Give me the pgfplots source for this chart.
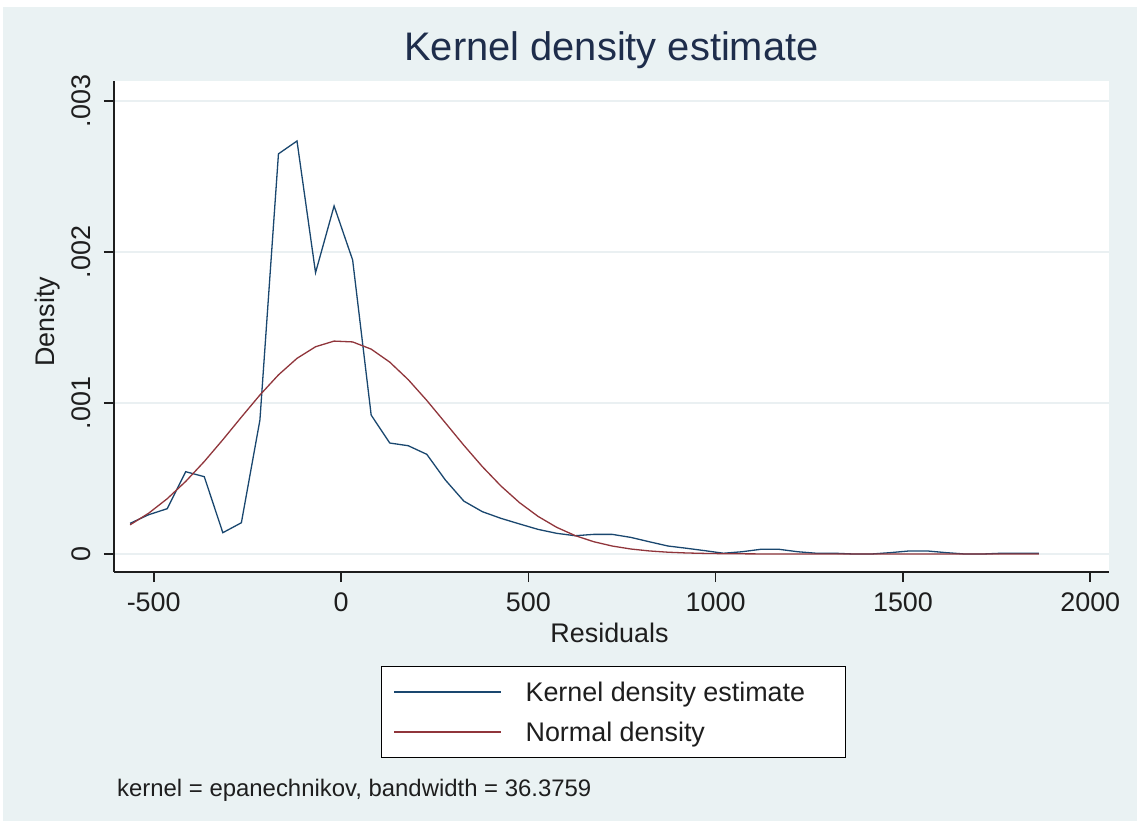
\documentclass[border=0pt]{standalone}
\usepackage{fontspec}
\setmainfont{Liberation Sans}
\usepackage{pgfplots}
\pgfplotsset{compat=1.18}

\definecolor{stbg}{RGB}{234,242,243}
\definecolor{stgrid}{RGB}{234,240,242}
\definecolor{stnavy}{RGB}{26,71,111}
\definecolor{stmaroon}{RGB}{144,53,59}
\definecolor{sttitle}{RGB}{30,45,75}
\definecolor{sttext}{RGB}{30,30,30}

\begin{document}
\begin{tikzpicture}[x=1bp,y=1bp]
% page background (Stata s2color)
\fill[white] (-114,-249) rectangle (1023,572);
\fill[stbg] (-111,-249) rectangle (1023,565);

\begin{axis}[
    at={(0,0)}, anchor=south west,
    scale only axis,
    width=995bp, height=491bp,
    xmin=-606, xmax=2050,
    ymin=-0.0001192, ymax=0.0031325,
    axis lines*=left,
    axis line style={line width=1.6bp, color=sttext, -},
    axis background/.style={fill=white},
    xtick={-500,0,500,1000,1500,2000},
    xticklabels={-500,0,500,1000,1500,2000},
    ytick={0,0.001,0.002,0.003},
    yticklabels={0,.001,.002,.003},
    scaled y ticks=false,
    tick align=outside,
    major tick length=10bp,
    tick style={line width=1.6bp, color=sttext},
    ymajorgrids,
    grid style={line width=1.4bp, color=stgrid},
    tick label style={font=\fontsize{27}{32}\selectfont, text=sttext, inner sep=0pt},
    xticklabel style={anchor=north, yshift=-11bp},
    yticklabel style={rotate=90, anchor=south, yshift=13bp},
    xlabel={Residuals},
    ylabel={Density},
    label style={font=\fontsize{27}{32}\selectfont, text=sttext, inner sep=0pt},
    xlabel style={at={(axis description cs:0.498,-0.1426)}, anchor=base},
    ylabel style={at={(axis description cs:-0.0598,0.51)}, anchor=base},
    title={Kernel density estimate},
    title style={at={(axis description cs:0.5,1.0291)}, anchor=base,
        font=\fontsize{40}{46}\selectfont, text=sttitle, inner sep=0pt},
    legend style={
        at={(axis description cs:0.2683,-0.1914)}, anchor=north west,
        draw=black, line width=1.3bp, fill=white,
        font=\fontsize{27}{32}\selectfont, text=sttext,
        inner xsep=12bp, inner ysep=13bp,
        row sep=15bp,
        /tikz/every odd column/.append style={column sep=21.7bp},
    },
    legend cell align=left,
    legend image code/.code={\draw[#1] (0bp,0bp) -- (107bp,0bp);},
    every axis plot/.append style={line width=1.3bp},
]

% kernel density estimate (50 evaluation points)
\addplot[stnavy] coordinates {
    (-563,0.000203) (-513.5,0.000260) (-464,0.000300) (-414.5,0.000545)
    (-365,0.000512) (-315.5,0.000141) (-266,0.000207) (-216.5,0.000887)
    (-167,0.002650) (-117.5,0.002735) (-68,0.001863) (-18.5,0.002305)
    (31,0.001947) (80.5,0.000920) (130,0.000735) (179.5,0.000717)
    (229,0.000660) (278.5,0.000490) (328,0.000350) (377.5,0.000280)
    (427,0.000236) (476.5,0.000199) (526,0.000163) (575.5,0.000137)
    (625,0.000121) (674.5,0.000130) (724,0.000130) (773.5,0.000110)
    (823,0.000081) (872.5,0.000053) (922,0.000038) (971.5,0.000022)
    (1021,0.000005) (1070.5,0.000015) (1120,0.000031) (1169.5,0.000031)
    (1219,0.000015) (1268.5,0.000005) (1318,0.000005) (1367.5,0.000000)
    (1417,0.000000) (1466.5,0.000009) (1516,0.000020) (1565.5,0.000020)
    (1615,0.000009) (1664.5,0.000000) (1714,0.000000) (1763.5,0.000005)
    (1813,0.000005) (1862.5,0.000005)
};

% normal density
\addplot[stmaroon] coordinates {
    (-563,0.0001934) (-513.5,0.0002701) (-464,0.0003660) (-414.5,0.0004808)
    (-365,0.0006125) (-315.5,0.0007567) (-266,0.0009065) (-216.5,0.0010530)
    (-167,0.0011862) (-117.5,0.0012957) (-68,0.0013726) (-18.5,0.0014100)
    (31,0.0014045) (80.5,0.0013567) (130,0.0012709) (179.5,0.0011544)
    (229,0.0010169) (278.5,0.0008686) (328,0.0007195) (377.5,0.0005779)
    (427,0.0004501) (476.5,0.0003400) (526,0.0002490) (575.5,0.0001769)
    (625,0.0001218) (674.5,0.0000814) (724,0.0000527) (773.5,0.0000331)
    (823,0.0000202) (872.5,0.0000119) (922,0.0000068) (971.5,0.0000038)
    (1021,0.0000020) (1070.5,0.0000011) (1120,0.0000005) (1169.5,0.0000002)
    (1219,0.0000001) (1268.5,0) (1318,0) (1367.5,0) (1417,0) (1466.5,0)
    (1516,0) (1565.5,0) (1615,0) (1664.5,0) (1714,0) (1763.5,0)
    (1813,0) (1862.5,0)
};

\legend{Kernel density estimate\hspace*{26bp}, Normal density}
\end{axis}

\node[anchor=base west, inner sep=0pt, font=\fontsize{24}{28}\selectfont, text=sttext]
    at (3,-225) {kernel = epanechnikov, bandwidth = 36.3759};

\pgfresetboundingbox
\useasboundingbox (-114,-249) rectangle (1023,572);
\end{tikzpicture}
\end{document}
